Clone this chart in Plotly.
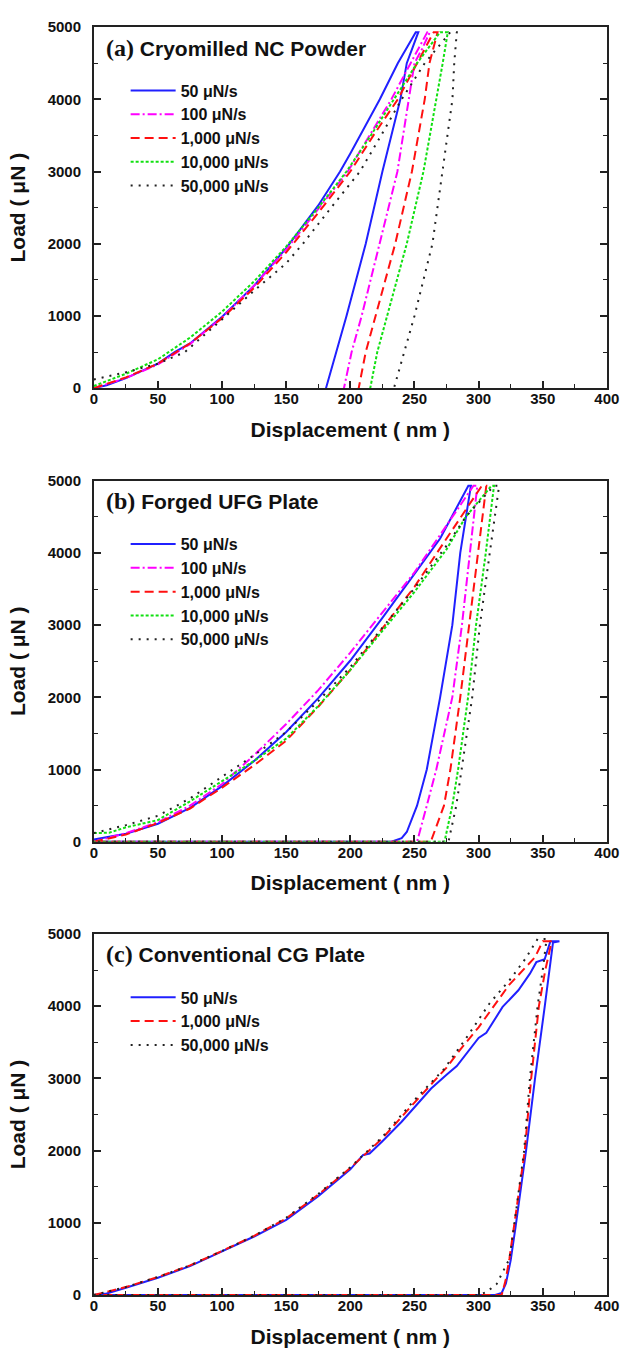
import plotly.graph_objects as go

# ---------------- data ----------------
rate_labels_5 = ["50 μN/s", "100 μN/s", "1,000 μN/s", "10,000 μN/s", "50,000 μN/s"]
rate_labels_3 = ["50 μN/s", "1,000 μN/s", "50,000 μN/s"]
panel_titles = ["(a)", "(b)", "(c)"]
panel_names = ["Cryomilled NC Powder", "Forged UFG Plate", "Conventional CG Plate"]

# Panel (a) Cryomilled NC Powder: displacement (nm), load (uN)
a50_x = [0, 10, 25, 50, 63, 75, 100, 125, 150, 175, 192, 200, 223, 237, 251, 253,
         244, 239, 225, 212, 197, 189, 181]
a50_y = [0, 40, 140, 340, 500, 620, 990, 1420, 1940, 2530, 3000, 3250, 4000, 4500, 4930, 4930,
         4500, 4000, 3000, 2000, 1000, 500, 0]
a100_x = [0, 25, 50, 75, 100, 125, 150, 175, 198, 215, 232, 247, 260, 262,
          256, 250, 245.5, 236.7, 222.8, 208.8, 201, 195]
a100_y = [0, 140, 330, 610, 980, 1420, 1920, 2480, 3000, 3500, 4000, 4500, 4930, 4930,
          4700, 4500, 4000, 3000, 2000, 1000, 500, 0]
a1k_x = [0, 25, 50, 75, 100, 125, 150, 175, 200, 218, 237, 252, 265, 268,
         261.7, 258, 248, 235, 220, 212, 206.5]
a1k_y = [0, 150, 340, 620, 970, 1390, 1880, 2430, 3000, 3500, 4000, 4500, 4930, 4930,
         4500, 4000, 3000, 2000, 1000, 500, 0]
a10k_x = [0, 25, 50, 75, 100, 125, 150, 175, 197, 216, 234, 252, 270, 276,
          272, 267, 257, 244, 229, 221, 215.5]
a10k_y = [30, 200, 400, 700, 1060, 1480, 1960, 2500, 3000, 3500, 4000, 4500, 4930, 4930,
          4500, 4000, 3000, 2000, 1000, 500, 0]
a50k_x = [0, 25, 50, 71, 103, 125, 150, 163, 185, 207.5, 224, 240, 258, 278, 283,
          281, 279.6, 272, 264, 250, 242, 236, 234]
a50k_y = [120, 220, 340, 500, 1000, 1350, 1730, 2000, 2500, 3000, 3500, 4000, 4500, 4930, 4930,
          4500, 4000, 3000, 2000, 1000, 500, 100, 0]

# Panel (b) Forged UFG Plate
b50_x = [0, 25, 50, 75, 100, 125, 150, 175, 200, 225, 250, 270, 292, 294,
         285.7, 279.5, 270, 259.6, 252, 244, 240, 232, 0]
b50_y = [30, 110, 250, 470, 770, 1120, 1520, 1990, 2510, 3100, 3710, 4200, 4930, 4930,
         4000, 3000, 2000, 1000, 500, 135, 50, 0, 0]
b100_x = [0, 25, 50, 75, 100, 125, 150, 175, 200, 225, 250, 270, 296, 299,
          293, 287, 279.5, 267, 259.6, 252, 0]
b100_y = [0, 120, 270, 500, 800, 1200, 1630, 2100, 2620, 3170, 3730, 4250, 4930, 4930,
          4000, 3000, 2000, 1000, 500, 0, 0]
b1k_x = [0, 25, 50, 75, 100, 125, 150, 175, 200, 225, 250, 275, 302.5, 306,
         299.5, 293, 285.7, 278, 273, 262.7, 0]
b1k_y = [0, 100, 260, 460, 750, 1060, 1400, 1870, 2380, 2950, 3530, 4200, 4930, 4930,
         4000, 3000, 2000, 1000, 500, 0, 0]
b10k_x = [0, 12, 25, 50, 75, 100, 125, 150, 175, 200, 225, 250, 275, 290, 310, 312,
          305.6, 298, 291.8, 284, 279.5, 273.4, 0]
b10k_y = [120, 125, 200, 300, 560, 840, 1120, 1430, 1880, 2380, 2920, 3460, 4050, 4500, 4930, 4930,
          4000, 3000, 2000, 1000, 500, 0, 0]
b50k_x = [0, 25, 50, 75, 100, 125, 150, 175, 200, 225, 250, 275, 290, 312, 316,
          308.7, 301, 295, 287, 282.6, 276.5, 0]
b50k_y = [120, 230, 360, 600, 900, 1200, 1520, 1950, 2420, 2960, 3510, 4100, 4500, 4930, 4930,
          4000, 3000, 2000, 1000, 500, 0, 0]

# Panel (c) Conventional CG Plate
c50_x = [0, 10, 25, 50, 75, 100, 125, 150, 175, 200, 210, 215, 225, 240, 250, 263, 275, 283,
         300, 306, 318.7, 331, 340, 345, 351.5, 356, 363,
         358, 351.6, 344, 337, 332.6, 328.8, 325, 321.3, 318, 313, 0]
c50_y = [0, 20, 100, 240, 400, 600, 810, 1040, 1370, 1740, 1940, 1960, 2130, 2400, 2600, 2860, 3050, 3170,
         3560, 3630, 3990, 4220, 4450, 4610, 4650, 4900, 4900,
         4880, 4000, 3000, 2000, 1400, 940, 480, 160, 30, 0, 0]
c1k_x = [0, 25, 50, 75, 100, 125, 150, 175, 200, 225, 250, 275, 286, 300, 323.8, 344, 350, 357,
         352, 347, 341, 336, 328, 324, 321, 318, 0]
c1k_y = [0, 110, 250, 410, 610, 820, 1060, 1390, 1760, 2170, 2665, 3150, 3406, 3708, 4295, 4678, 4900, 4900,
         4500, 4000, 3000, 2000, 1000, 500, 200, 0, 0]
c50k_x = [0, 25, 50, 75, 100, 125, 150, 175, 200, 225, 250, 273, 290, 308.6, 325, 336.4, 346, 353,
          350, 346, 340, 335.5, 328, 324, 314, 306, 300, 0]
c50k_y = [0, 110, 250, 410, 610, 820, 1070, 1400, 1770, 2190, 2700, 3128, 3550, 4040, 4380, 4655, 4930, 4930,
          4500, 4000, 3000, 2000, 1000, 500, 150, 40, 0, 0]

x_ticks = [0, 50, 100, 150, 200, 250, 300, 350, 400]
y_ticks = [0, 1000, 2000, 3000, 4000, 5000]

# ---------------- styles ----------------
W, H = 633, 1359
FONT = "Liberation Sans"
SERIF = "Liberation Serif"
styles = {
    "50 μN/s": dict(color="#2020ff", dash="solid"),
    "100 μN/s": dict(color="#ff00ff", dash="9px,3px,2px,3px"),
    "1,000 μN/s": dict(color="#ff1010", dash="9px,5px"),
    "10,000 μN/s": dict(color="#10e010", dash="3px,2px"),
    "50,000 μN/s": dict(color="#222222", dash="2px,6px"),
}

x_dom = [92.3 / W, 619.5 / W]
panel_px = [(18.3, 384.0), (477.7, 843.3), (936.7, 1302.3)]
y_doms = [[1 - b / H, 1 - t / H] for (t, b) in panel_px]

panels = [
    (rate_labels_5, [(a50_x, a50_y), (a100_x, a100_y), (a1k_x, a1k_y), (a10k_x, a10k_y), (a50k_x, a50k_y)]),
    (rate_labels_5, [(b50_x, b50_y), (b100_x, b100_y), (b1k_x, b1k_y), (b10k_x, b10k_y), (b50k_x, b50k_y)]),
    (rate_labels_3, [(c50_x, c50_y), (c1k_x, c1k_y), (c50k_x, c50k_y)]),
]

fig = go.Figure()
layout = dict(
    width=W, height=H, margin=dict(l=0, r=0, t=0, b=0),
    paper_bgcolor="white", plot_bgcolor="white",
    font=dict(family=FONT, color="#111111"),
    annotations=[],
)

for i, (labels, series) in enumerate(panels):
    n = "" if i == 0 else str(i + 1)
    xa, ya = "x" + n, "y" + n
    lg = "legend" + n
    for lab, (xs, ys) in zip(labels, series):
        st = styles[lab]
        fig.add_trace(go.Scatter(
            x=xs, y=ys, mode="lines", name=lab, xaxis=xa, yaxis=ya, legend=lg,
            line=dict(color=st["color"], dash=st["dash"], width=2),
        ))
    layout["xaxis" + n] = dict(
        domain=x_dom, anchor=ya, range=[0, 400], tickvals=x_ticks,
        ticks="inside", ticklen=7, tickwidth=1.5, tickcolor="#222",
        minor=dict(dtick=25, tick0=0, ticks="inside", ticklen=4, tickwidth=1.2, tickcolor="#222"),
        showline=True, linecolor="#222", linewidth=1.6, mirror=True,
        showgrid=False, zeroline=False, ticklabeloverflow="allow",
        tickfont=dict(family=FONT, size=15, weight="bold", color="#111"),
        ticklabelstandoff=-4,
        title=dict(text="Displacement ( nm )", font=dict(family=FONT, size=21, weight="bold", color="#111"), standoff=16),
    )
    layout["yaxis" + n] = dict(
        domain=y_doms[i], anchor=xa, range=[0, 5000], tickvals=y_ticks,
        ticks="inside", ticklen=7, tickwidth=1.5, tickcolor="#222",
        minor=dict(dtick=500, tick0=0, ticks="inside", ticklen=4, tickwidth=1.2, tickcolor="#222"),
        showline=True, linecolor="#222", linewidth=1.6, mirror="ticks",
        showgrid=False, zeroline=False, ticklabeloverflow="allow",
        tickfont=dict(family=FONT, size=15, weight="bold", color="#111"),
        ticklabelstandoff=8,
        title=dict(text="Load ( μN )", font=dict(family=FONT, size=21, weight="bold", color="#111"), standoff=16),
    )
    top_px = panel_px[i][0]
    layout[lg] = dict(
        x=125 / W, y=1 - (top_px + 47) / H, xanchor="left", yanchor="top",
        bgcolor="rgba(0,0,0,0)", borderwidth=0, itemwidth=45, tracegroupgap=0,
        font=dict(family=FONT, size=16, weight="bold", color="#111"),
    )
    layout["annotations"].append(dict(
        xref=xa, yref=ya, x=8, y=4716, xanchor="left", yanchor="middle", showarrow=False,
        text="<span style='font-family:%s;font-size:24px'>%s</span> %s" % (SERIF, panel_titles[i], panel_names[i]),
        font=dict(family=FONT, size=21, weight="bold", color="#111"),
    ))

fig.update_layout(**layout)
fig.write_html(
    "out.html", config={"displayModeBar": False},
    post_script=("document.body.style.margin='0';"
                 "document.body.style.overflow='hidden';"
                 "document.documentElement.style.overflow='hidden';"),
)
